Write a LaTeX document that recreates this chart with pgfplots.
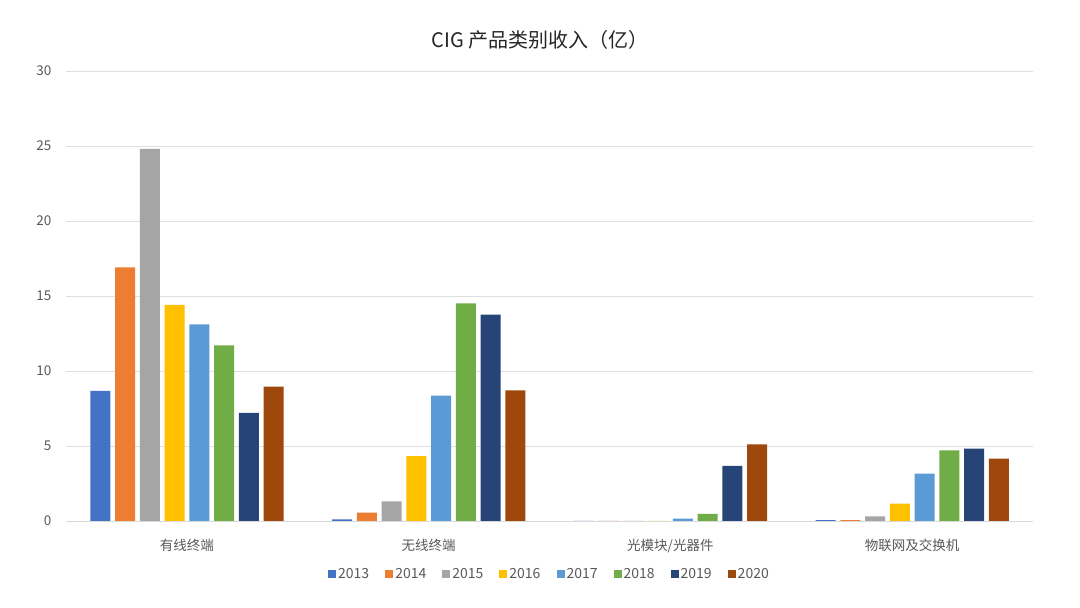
\documentclass[border=0pt]{standalone}
\usepackage{fontspec}
\setmainfont{Noto Sans CJK SC}
\usepackage{pgfplots}
\pgfplotsset{compat=1.18}
\definecolor{c13}{HTML}{4472C4}
\definecolor{c14}{HTML}{ED7D31}
\definecolor{c15}{HTML}{A5A5A5}
\definecolor{c16}{HTML}{FFC000}
\definecolor{c17}{HTML}{5B9BD5}
\definecolor{c18}{HTML}{70AD47}
\definecolor{c19}{HTML}{264478}
\definecolor{c20}{HTML}{9E480E}
\definecolor{txt}{HTML}{595959}
\definecolor{grid}{HTML}{D9D9D9}
\begin{document}
\begin{tikzpicture}[x=1pt,y=1pt]
\fill[white] (0,0) rectangle (1080,608);
\useasboundingbox (0,0) rectangle (1080,608);
\node[font=\fontsize{20}{24}\selectfont, text=black!85] at (540,568) {CIG 产品类别收入（亿）};
\begin{axis}[
  at={(66pt,87pt)}, anchor=south west,
  scale only axis, width=967pt, height=450pt,
  ymin=0, ymax=30, ytick={0,5,...,30},
  xmin=-0.5, xmax=3.5,
  xtick={0,1,2,3},
  xticklabels={有线终端,无线终端,光模块/光器件,物联网及交换机},
  ybar=4.75pt, bar width=20pt,
  axis x line*=bottom, axis y line*=left,
  x axis line style={grid, line width=0.8pt},
  y axis line style={draw=none},
  ymajorgrids=true, xmajorgrids=false, grid style={grid!85, line width=0.7pt},
  major tick length=0pt,
  tick label style={font=\fontsize{13.5}{15}\selectfont, text=txt},
  /pgf/number format/assume math mode=true,
  yticklabel style={xshift=-11pt},
  xticklabel style={yshift=-15pt},
  legend columns=8,
  legend style={at={(0.5,-0.118)}, anchor=center, draw=none, fill=none,
    font=\fontsize{14}{16}\selectfont, text=txt,
    /tikz/every odd column/.append style={column sep=0pt},
    /tikz/every even column/.append style={column sep=14pt}},
  legend image code/.code={\fill[#1] (0pt,-4pt) rectangle (8pt,4pt);},
  every axis plot/.append style={draw=none},
]
\addplot[fill=c13] coordinates {(0,8.67) (1,0.1) (2,0) (3,0.06)};
\addplot[fill=c14] coordinates {(0,16.9) (1,0.55) (2,0) (3,0.05)};
\addplot[fill=c15] coordinates {(0,24.8) (1,1.3) (2,0) (3,0.3)};
\addplot[fill=c16] coordinates {(0,14.4) (1,4.33) (2,0) (3,1.15)};
\addplot[fill=c17] coordinates {(0,13.1) (1,8.35) (2,0.15) (3,3.15)};
\addplot[fill=c18] coordinates {(0,11.7) (1,14.5) (2,0.47) (3,4.7)};
\addplot[fill=c19] coordinates {(0,7.2) (1,13.75) (2,3.67) (3,4.82)};
\addplot[fill=c20] coordinates {(0,8.95) (1,8.7) (2,5.1) (3,4.15)};
\legend{2013,2014,2015,2016,2017,2018,2019,2020}
\end{axis}
\end{tikzpicture}
\end{document}
